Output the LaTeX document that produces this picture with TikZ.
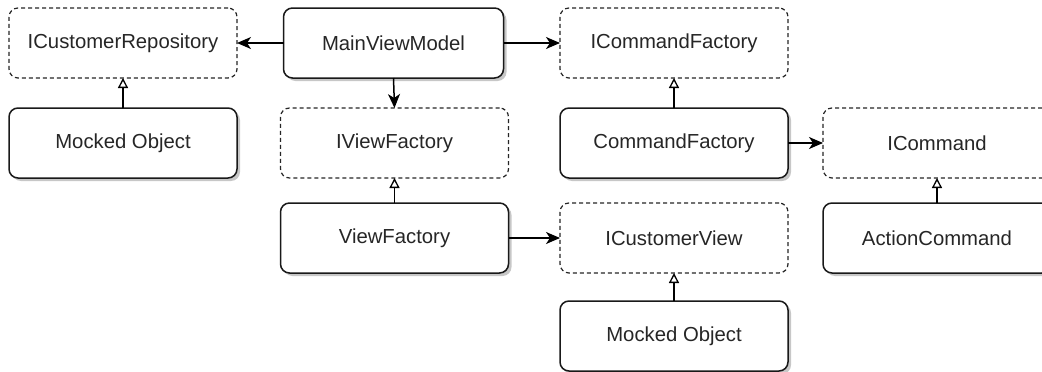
\documentclass[tikz,border=0pt]{standalone}
\usepackage{fontspec}
\setmainfont{Liberation Sans}
\usetikzlibrary{arrows.meta,shadows}
\begin{document}
\begin{tikzpicture}[x=1pt,y=-1pt,
  box/.style={rectangle, rounded corners=9pt, minimum width=228pt, minimum height=70pt,
    line width=1.5pt, outer sep=0pt, font=\fontsize{20.3}{24}\selectfont, text=black!85},
  cls/.style={box, draw=black!90, fill=white,
    drop shadow={shadow xshift=3pt, shadow yshift=-3pt, opacity=0.22, fill=black}},
  iface/.style={box, draw=black!85, dash pattern=on 4pt off 3pt, line width=1.2pt},
  dep/.style={line width=1.5pt, -{Stealth[length=14pt,width=12pt,inset=4pt]}},
  impl/.style={line width=1.5pt, -{Triangle[open,length=10pt,width=10pt,line width=1.3pt]}}
]
\clip (0,0) rectangle (1042,372);
\fill[white] (0,0) rectangle (1042,372);
% row 1
\node[iface] (icr) at (123,43) {ICustomerRepository};
\node[cls, minimum width=220pt] (mvm) at (393.5,43) {MainViewModel};
\node[iface] (icf) at (674,43) {ICommandFactory};
% row 2
\node[cls]   (mo1) at (123,143) {Mocked Object};
\node[iface] (ivf) at (394.5,143) {IViewFactory};
\node[cls]   (cf)  at (674,143) {CommandFactory};
\node[iface] (ic)  at (937,143) {ICommand};
% row 3
\node[cls]   (vf)  at (394.5,238) {ViewFactory};
\node[iface] (icv) at (674,238) {ICustomerView};
\node[cls]   (ac)  at (937,238) {ActionCommand};
% row 4
\node[cls]   (mo2) at (674,336) {Mocked Object};
% connectors
\draw[dep] (mvm.west) -- (icr.east);
\draw[dep] (mvm.east) -- (icf.west);
\draw[dep] (mvm.south) -- (ivf.north);
\draw[dep] (cf.east) -- (ic.west);
\draw[dep] (vf.east) -- (icv.west);
\draw[impl] (mo1.north) -- (icr.south);
\draw[impl] (vf.north) -- (ivf.south);
\draw[impl] (cf.north) -- (icf.south);
\draw[impl] (ac.north) -- (ic.south);
\draw[impl] (mo2.north) -- (icv.south);
\end{tikzpicture}
\end{document}
